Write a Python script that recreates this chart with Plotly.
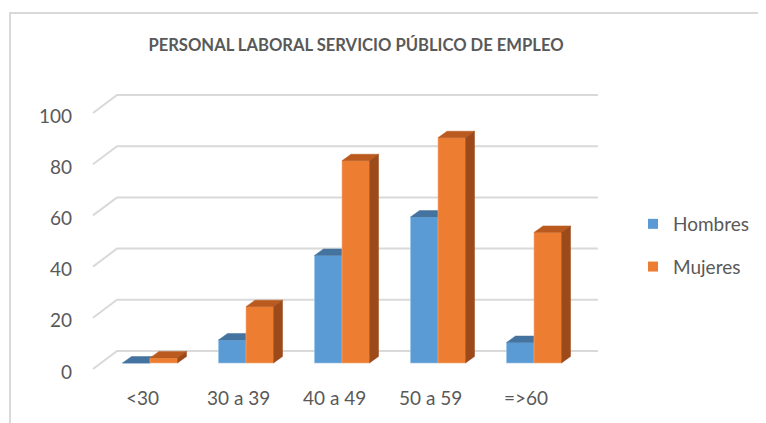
import plotly.graph_objects as go

# ---------------- data ----------------
categories = ["<30", "30 a 39", "40 a 49", "50 a 59", "=>60"]
hombres = [0, 9, 42, 57, 8]
mujeres = [2, 22, 79, 88, 51]
y_ticks = [0, 20, 40, 60, 80, 100]
title_text = "PERSONAL LABORAL SERVICIO PÚBLICO DE EMPLEO"
series_names = ["Hombres", "Mujeres"]

# ---------------- geometry (pixel-based helpers) ----------------
OFF = 8                      # page body margin
W, H = 766 - OFF, 423 - OFF
X0PX, PXC = 150.0 - OFF, 96.0   # category 0 centre pixel, pixels per category
Y0PX, PXV = 363.0 - OFF, 2.56   # value 0 pixel (bar front), pixels per unit


def dxp(p):
    return p / PXC


def dyp(p):
    return p / PXV


def xpx(p):  # reference-screen pixel -> data x
    return (p - OFF - X0PX) / PXC


BW = dxp(27.5)               # bar width in category units
BDX, BDY = dxp(9), dyp(6.5)  # bar depth offsets
BACK_DY = dyp(12)            # back wall vertical offset
WALL_L_FRONT, WALL_L_BACK, WALL_R = xpx(93), xpx(117), xpx(598)
FRONT_DY = dyp(-6)

colors = {
    "Hombres": {"front": "#5B9BD5", "top": "#44739F", "side": "#3F6C96", "edge": "#9DC3E6"},
    "Mujeres": {"front": "#ED7D31", "top": "#BA5A1E", "side": "#9C4A1A", "edge": "#F4B183"},
}
fc = "#595959"
font = "Lato, 'Open Sans', sans-serif"

fig = go.Figure()

# gridlines on back wall and left side wall
gx, gy = [], []
for v in y_ticks:
    gx += [WALL_L_FRONT, WALL_L_BACK, WALL_R, None]
    gy += [v + FRONT_DY, v + BACK_DY, v + BACK_DY, None]
fig.add_trace(go.Scatter(x=gx, y=gy, mode="lines", line=dict(color="#D9D9D9", width=2),
                         hoverinfo="skip", showlegend=False))


def faces(values, offset):
    fx, fy, tx, ty, sx, sy = [], [], [], [], [], []
    for i, v in enumerate(values):
        x0 = i + offset
        x1 = x0 + BW
        fx += [x0, x1, x1, x0, x0, None]
        fy += [0, 0, v, v, 0, None]
        tx += [x0, x1, x1 + BDX, x0 + BDX, x0, None]
        ty += [v, v, v + BDY, v + BDY, v, None]
        sx += [x1, x1 + BDX, x1 + BDX, x1, x1, None]
        sy += [0, BDY, v + BDY, v, 0, None]
    return (fx, fy), (tx, ty), (sx, sy)


for name, vals, off in [("Hombres", hombres, -BW), ("Mujeres", mujeres, 0.0)]:
    c = colors[name]
    (fx, fy), (tx, ty), (sx, sy) = faces(vals, off)
    fig.add_trace(go.Scatter(x=fx, y=fy, fill="toself", fillcolor=c["front"], mode="lines",
                             line=dict(color=c["edge"], width=0.6), hoverinfo="skip", showlegend=False))
    fig.add_trace(go.Scatter(x=tx, y=ty, fill="toself", fillcolor=c["top"], mode="lines",
                             line=dict(color=c["top"], width=0.5), hoverinfo="skip", showlegend=False))
    fig.add_trace(go.Scatter(x=sx, y=sy, fill="toself", fillcolor=c["side"], mode="lines",
                             line=dict(color=c["side"], width=0.5), hoverinfo="skip", showlegend=False))

# legend entries
for i, name in enumerate(series_names):
    fig.add_trace(go.Scatter(x=[None], y=[None], mode="markers", name=name,
                             marker=dict(symbol="square", size=10, color=colors[name]["front"]),
                             legendgroup=name))

# y tick labels
for v in y_ticks:
    fig.add_annotation(x=xpx(74), y=v - dyp(8), text=str(v), showarrow=False,
                       xanchor="right", yanchor="middle", font=dict(size=19, color=fc, family=font))

# category labels
for i, c in enumerate(categories):
    fig.add_annotation(x=i - dxp(8), y=dyp(-34), text=c, showarrow=False,
                       xanchor="center", yanchor="middle", font=dict(size=19, color=fc, family=font))

fig.update_layout(
    width=W, height=H,
    margin=dict(l=0, r=0, t=0, b=0),
    paper_bgcolor="white", plot_bgcolor="white",
    title=dict(text="<b>" + title_text + "</b>", x=(356 - OFF) / W, y=1 - (45 - OFF) / H,
               xanchor="center", yanchor="middle", font=dict(size=16.6, color=fc, family=font)),
    xaxis=dict(range=[xpx(OFF), xpx(766)], visible=False, fixedrange=True),
    yaxis=dict(range=[(Y0PX - H) / PXV, Y0PX / PXV], visible=False, fixedrange=True),
    legend=dict(x=(633 - OFF) / W, y=1 - (205 - OFF) / H, xanchor="left", yanchor="top",
                font=dict(size=19, color=fc, family=font), traceorder="grouped",
                tracegroupgap=15, itemwidth=30, bgcolor="rgba(0,0,0,0)"),
    shapes=[
        dict(type="line", xref="paper", yref="paper", x0=(9 - OFF) / W, x1=1,
             y0=1 - (13 - OFF) / H, y1=1 - (13 - OFF) / H, line=dict(color="#D9D9D9", width=2)),
        dict(type="line", xref="paper", yref="paper", x0=(10 - OFF) / W, x1=(10 - OFF) / W,
             y0=0, y1=1 - (13 - OFF) / H, line=dict(color="#D9D9D9", width=2)),
    ],
)

fig.write_html("out.html")
